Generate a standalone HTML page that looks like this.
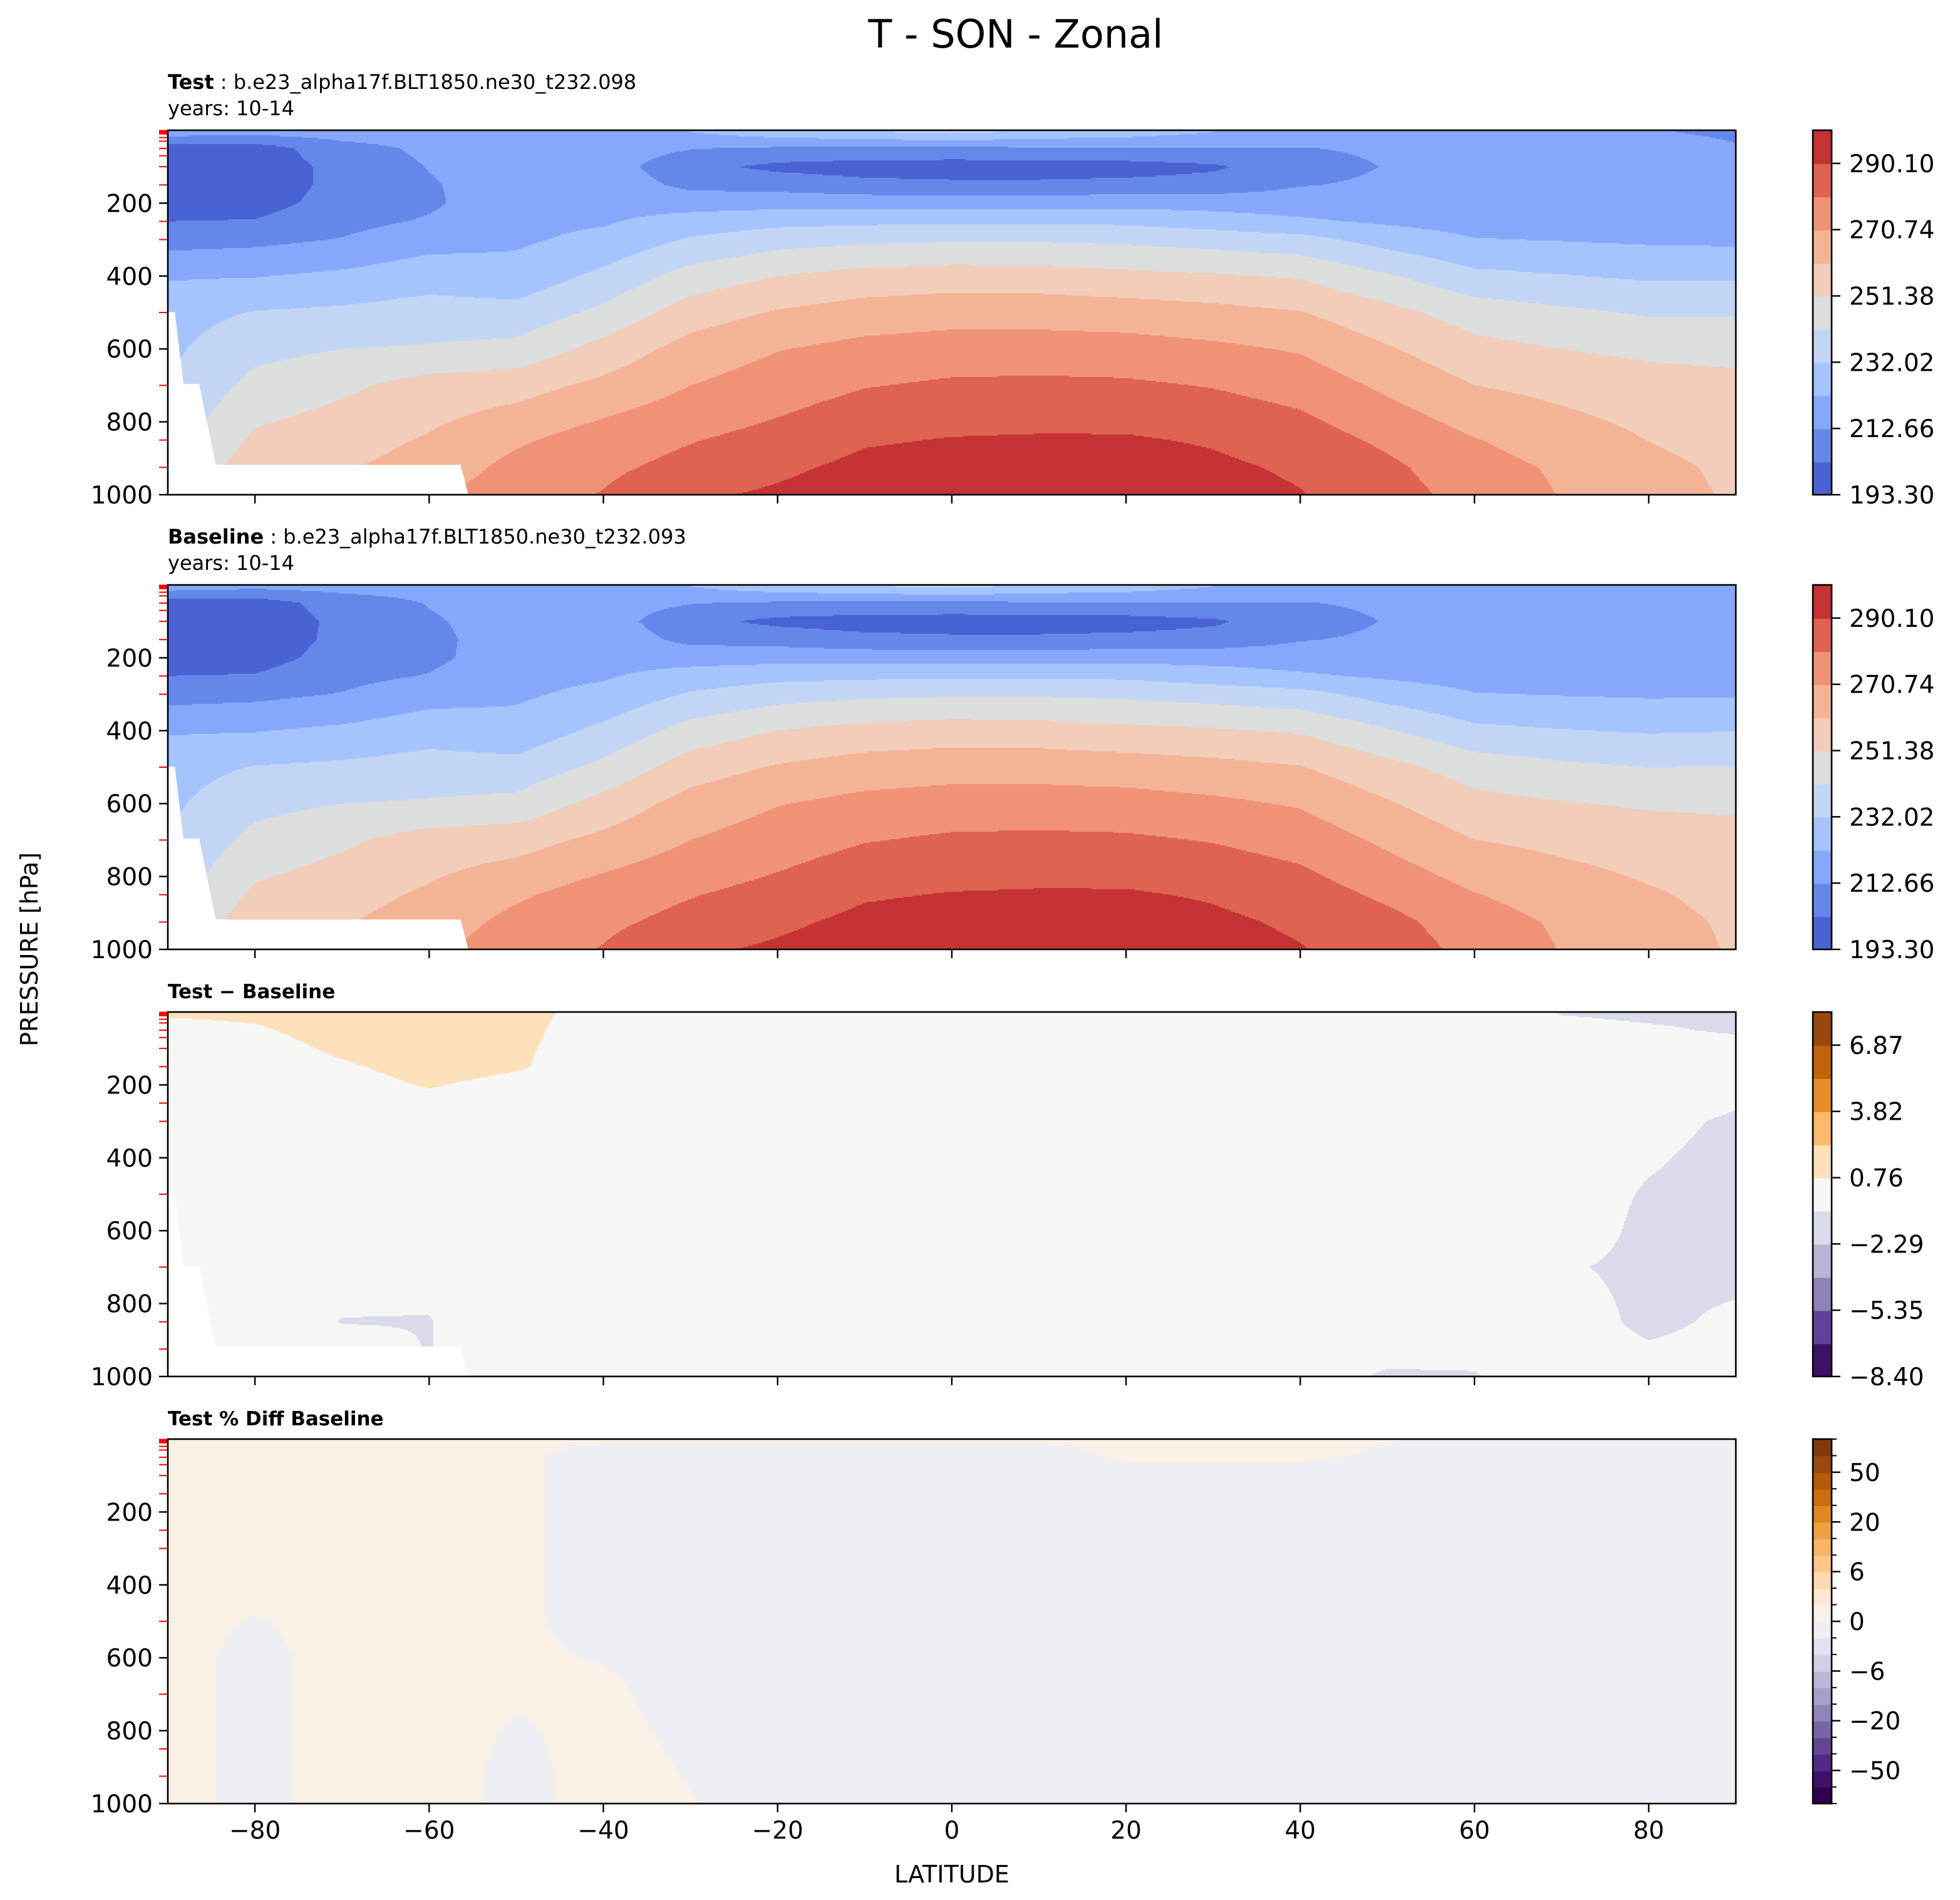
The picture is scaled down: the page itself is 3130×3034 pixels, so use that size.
<!DOCTYPE html>
<html><head><meta charset="utf-8"><style>
html,body{margin:0;padding:0;background:#fff}
svg{display:block}
text{font-family:"DejaVu Sans","Liberation Sans",sans-serif;fill:#000}
</style></head><body>
<svg id="fig" width="3130" height="3034" viewBox="0 0 1565 1517" xmlns="http://www.w3.org/2000/svg">
<rect x="0" y="0" width="1565" height="1517" fill="#fff"/>
<text x="811" y="38" font-size="31" text-anchor="middle">T - SON - Zonal</text>
<text x="134" y="71" font-size="16"><tspan font-weight="bold">Test</tspan> : b.e23_alpha17f.BLT1850.ne30_t232.098</text>
<text x="134" y="92" font-size="16">years: 10-14</text>
<text x="134" y="434" font-size="16"><tspan font-weight="bold">Baseline</tspan> : b.e23_alpha17f.BLT1850.ne30_t232.093</text>
<text x="134" y="455" font-size="16">years: 10-14</text>
<text x="134" y="797" font-size="15.5" font-weight="bold">Test − Baseline</text>
<text x="134" y="1138" font-size="15.5" font-weight="bold">Test % Diff Baseline</text>
<text x="760" y="1503" font-size="19" text-anchor="middle">LATITUDE</text>
<text x="0" y="0" font-size="19" text-anchor="middle" transform="translate(30,758) rotate(-90)">PRESSURE [hPa]</text>
</svg>
<script>
// ---- data ----
const lats = [-90,-80,-70,-60,-50,-40,-30,-20,-10,0,10,20,30,40,50,60,70,80,90];
const levels = [5,50,100,150,200,250,300,400,500,600,700,850,925,1000];
const tTest = [
[217.5,198.1,197.2,197.2,199.1,203.0,208.8,221.4,228.1,230.1,232.0,236.9,241.7,241.7],
[215.6,198.1,197.2,197.2,199.1,203.5,210.2,221.9,232.5,238.8,244.6,253.3,257.2,259.1],
[217.5,208.8,205.9,205.9,206.9,209.8,213.1,224.3,233.9,241.7,249.4,257.2,260.1,262.0],
[217.5,214.6,213.1,211.7,211.2,213.6,218.5,228.1,235.9,242.7,255.3,262.0,264.9,268.8],
[219.4,217.5,217.5,218.0,218.5,219.9,220.9,225.7,235.4,244.6,257.2,269.3,273.6,276.5],
[219.4,217.5,217.5,218.5,219.4,221.4,224.8,234.4,244.1,254.8,263.5,275.6,278.5,280.9],
[222.3,213.1,205.9,210.2,218.5,226.2,233.0,245.6,256.2,264.9,270.7,279.9,283.3,288.6],
[228.1,211.2,200.6,208.8,219.0,229.1,237.8,251.4,262.0,270.3,275.6,283.8,288.2,291.6],
[231.1,210.7,198.6,205.9,218.5,230.1,239.8,254.8,265.4,273.6,279.9,289.1,292.5,294.9],
[233.9,210.7,198.1,204.9,218.5,230.6,240.7,256.2,266.9,275.1,281.9,290.6,294.0,295.9],
[230.1,211.2,198.1,204.9,218.5,230.6,240.7,255.7,266.9,275.1,282.4,291.1,294.5,296.4],
[227.2,212.2,198.6,205.9,219.0,230.1,239.8,253.8,265.9,274.6,281.9,291.1,294.9,296.9],
[222.3,212.2,201.5,206.9,218.5,227.2,237.8,252.4,264.0,272.7,279.9,289.1,292.0,294.0],
[218.5,212.2,208.8,212.2,217.5,223.8,235.4,250.4,261.5,269.8,276.5,285.3,288.6,290.6],
[217.5,214.1,213.1,214.1,216.5,220.9,228.1,242.7,254.3,262.0,268.8,278.5,282.4,284.3],
[217.5,215.6,214.6,214.6,215.6,218.5,222.8,234.4,247.0,254.3,261.1,271.2,274.6,277.0],
[216.5,215.6,215.1,215.1,215.6,218.0,221.9,232.5,243.6,251.4,258.2,265.9,269.3,270.3],
[213.1,215.6,215.6,215.6,216.0,217.5,220.9,230.6,240.7,249.0,255.7,260.9,263.0,264.0],
[211.7,213.1,215.6,216.0,216.5,218.0,220.4,230.6,240.7,248.0,254.3,258.2,259.6,260.1]];
const tBase = [
[217.3,198.0,197.2,197.2,199.1,203.0,208.8,221.4,228.1,230.1,232.0,236.9,241.7,241.7],
[215.0,197.8,197.1,197.2,199.1,203.5,210.2,221.9,232.5,238.8,244.6,253.3,257.2,259.1],
[216.2,207.6,205.0,205.4,206.7,209.8,213.1,224.3,233.9,241.7,249.6,257.6,260.3,262.0],
[216.0,213.1,211.7,210.5,210.4,213.2,218.5,228.1,235.9,242.7,255.7,262.5,265.3,268.8],
[218.1,216.2,216.3,217.0,218.0,219.7,220.9,225.7,235.4,244.6,257.2,269.3,273.6,276.5],
[219.0,217.2,217.3,218.4,219.4,221.4,224.8,234.4,244.1,254.8,263.5,275.6,278.5,280.9],
[222.3,213.1,205.9,210.2,218.5,226.2,233.0,245.6,256.2,264.9,270.7,279.9,283.3,288.6],
[228.1,211.2,200.6,208.8,219.0,229.1,237.8,251.4,262.0,270.3,275.6,283.8,288.2,291.6],
[231.1,210.7,198.6,205.9,218.5,230.1,239.8,254.8,265.4,273.6,279.9,289.1,292.5,294.9],
[233.9,210.7,198.1,204.9,218.5,230.6,240.7,256.2,266.9,275.1,281.9,290.6,294.0,295.9],
[230.1,211.2,198.1,204.9,218.5,230.6,240.7,255.7,266.9,275.1,282.4,291.1,294.5,296.4],
[227.2,212.2,198.6,205.9,219.0,230.1,239.8,253.8,265.9,274.6,281.9,291.1,294.9,296.9],
[222.3,212.2,201.5,206.9,218.5,227.2,237.8,252.4,264.0,272.7,279.9,289.1,292.0,294.0],
[218.5,212.2,208.8,212.2,217.5,223.8,235.4,250.4,261.5,269.8,276.5,285.3,288.6,290.6],
[217.5,214.1,213.1,214.1,216.5,220.9,228.1,242.7,254.3,262.0,268.8,278.5,283.3,285.2],
[217.5,215.6,214.6,214.6,215.6,218.5,222.8,234.4,247.0,254.3,261.1,271.2,275.4,277.8],
[217.3,215.9,215.1,215.1,215.6,218.0,221.9,232.5,243.6,252.0,258.8,265.9,269.3,270.3],
[214.1,216.2,215.8,215.6,216.0,217.5,221.2,231.2,241.6,250.1,256.8,262.0,263.6,264.3],
[212.7,214.0,215.9,216.0,216.8,218.6,221.4,231.8,241.9,249.2,255.5,258.7,259.9,260.4]];
const tDiff = [
[0.9,0.3,0,0,0,0,0,0,0,0,0,0,0,0],
[1.0,0.6,0.2,0,0,0,0,0,0,0,0,0,0,0],
[1.4,1.3,1.0,0.6,0.3,0,0,0,0,0,-0.3,-0.8,-0.3,0],
[1.5,1.5,1.4,1.2,0.85,0.4,0,0,0,0,-0.5,-0.8,-0.8,0],
[1.2,1.1,1.0,0.9,0.4,0.1,0,0,0,0,0,0,0,0],
[0.2,0.1,0,0,0,0,0,0,0,0,0,0,0,0],
[0,0,0,0,0,0,0,0,0,0,0,0,0,0],
[0,0,0,0,0,0,0,0,0,0,0,0,0,0],
[0,0,0,0,0,0,0,0,0,0,0,0,0,0],
[0,0,0,0,0,0,0,0,0,0,0,0,0,0],
[0,0,0,0,0,0,0,0,0,0,0,0,0,0],
[0,0,0,0,0,0,0,0,0,0,0,0,0,0],
[0,0,0,0,0,0,0,0,0,0,0,0,0,0],
[0,0,0,0,0,0,0,0,0,0,0,0,0,-0.3],
[0,0,0,0,0,0,0,0,0,0,0,0,-0.4,-0.9],
[0,0,0,0,0,0,0,0,0,0,0,0,-0.4,-0.85],
[-0.8,-0.3,0,0,0,0,0,0,0,0,-0.6,0,0,0],
[-1.0,-0.6,-0.2,0,0,0,-0.3,-0.6,-0.9,-1.1,-1.1,-1.1,-0.6,-0.3],
[-1.0,-0.9,-0.3,0,-0.3,-0.6,-1.0,-1.2,-1.2,-1.2,-1.2,-0.45,-0.3,-0.3]];
const tPct = [
[1,1,1,1,1,1,1,1,1,1,1,1,1,1],
[1,1,1,1,1,1,1,1,-0.2,-0.8,-0.8,-0.8,-0.8,-0.8],
[1,1,1,1,1,1,1,1,1,1,1,1,1,1],
[1,1,1,1,1,1,1,1,1,1,1,1,1,1],
[0.3,0.3,0.3,0.3,0.3,0.3,0.3,0.3,0.3,0.3,0.2,-0.4,-0.6,-0.6],
[0.1,-0.6,-0.6,-0.6,-0.6,-0.6,-0.6,-0.6,-0.6,-0.1,0.4,0.7,0.8,0.8],
[0.1,-0.8,-0.8,-0.8,-0.8,-0.8,-0.8,-0.8,-0.8,-0.8,-0.8,-0.3,-0.1,0.1],
[0.1,-0.8,-0.8,-0.8,-0.8,-0.8,-0.8,-0.8,-0.8,-0.8,-0.8,-0.8,-0.8,-0.8],
[0.1,-0.8,-0.8,-0.8,-0.8,-0.8,-0.8,-0.8,-0.8,-0.8,-0.8,-0.8,-0.8,-0.8],
[0.1,-0.8,-0.8,-0.8,-0.8,-0.8,-0.8,-0.8,-0.8,-0.8,-0.8,-0.8,-0.8,-0.8],
[0.1,-0.8,-0.8,-0.8,-0.8,-0.8,-0.8,-0.8,-0.8,-0.8,-0.8,-0.8,-0.8,-0.8],
[0.6,0.3,-0.8,-0.8,-0.8,-0.8,-0.8,-0.8,-0.8,-0.8,-0.8,-0.8,-0.8,-0.8],
[0.6,0.3,-0.8,-0.8,-0.8,-0.8,-0.8,-0.8,-0.8,-0.8,-0.8,-0.8,-0.8,-0.8],
[0.6,0.3,-0.8,-0.8,-0.8,-0.8,-0.8,-0.8,-0.8,-0.8,-0.8,-0.8,-0.8,-0.8],
[0.1,-0.3,-0.8,-0.8,-0.8,-0.8,-0.8,-0.8,-0.8,-0.8,-0.8,-0.8,-0.8,-0.8],
[-0.8,-0.8,-0.8,-0.8,-0.8,-0.8,-0.8,-0.8,-0.8,-0.8,-0.8,-0.8,-0.8,-0.8],
[-0.8,-0.8,-0.8,-0.8,-0.8,-0.8,-0.8,-0.8,-0.8,-0.8,-0.8,-0.8,-0.8,-0.8],
[-0.8,-0.8,-0.8,-0.8,-0.8,-0.8,-0.8,-0.8,-0.8,-0.8,-0.8,-0.8,-0.8,-0.8],
[-0.8,-0.8,-0.8,-0.8,-0.8,-0.8,-0.8,-0.8,-0.8,-0.8,-0.8,-0.8,-0.8,-0.8]];
const maskLat = [-90,-89.2,-88.2,-86.4,-84.5,-56.4,-55.5,-90];
const maskP = [499,499,696,696,918,918,1000,1000];
const tLevels = [193.30,202.98,212.66,222.34,232.02,241.70,251.38,261.06,270.74,280.42,290.10,299.78];
const tColors = ['#4a63d3','#6687ea','#85a8fa','#a5c3fe','#c3d5f4','#dcdddd','#f1cdba','#f5b396','#f09276','#de6350','#c53334'];
const tTicks = ['193.30','212.66','232.02','251.38','270.74','290.10'];
const dLevels = [-8.40,-6.87,-5.35,-3.82,-2.29,-0.76,0.76,2.29,3.82,5.35,6.87,8.40];
const dColors = ['#3d1262','#62419a','#8e82b6','#b9b3d6','#d9daea','#f6f6f5','#fde1ba','#fdbb6b','#e68d2b','#c2630c','#99480b'];
const dTicks = ['−8.40','−5.35','−2.29','0.76','3.82','6.87'];
const pLevels = [-100,-75,-50,-40,-30,-20,-15,-10,-6,-4,-2,0,2,4,6,10,15,20,30,40,50,75,100];
const pColors = ['#2d004b','#3f0f6a','#542888','#634596','#7865a8','#8e86b9','#a79fcb','#bcb6d9','#d0cfe6','#e1e1ef','#eeeff2','#f9f0e6','#fde8d1','#fedbae','#fdc788','#f9b466','#f0a042','#e28822','#cb6e0e','#b45a09','#99490b','#7f3b08'];
const pTickIdx = [2,5,8,11,14,17,20];
const pTicks = ['−50','−20','−6','0','6','20','50'];
const yTicks = [200,400,600,800,1000];
const xTicks = [-80,-60,-40,-20,0,20,40,60,80];
const redTicks = [1,2,3,5,7,10,20,30,50,70,100,150,200,250,300,400,500,600,700,850,925,1000];

// ---- drawing ----
const NS = 'http://www.w3.org/2000/svg';
const svg = document.getElementById('fig');
const X0 = 134, W = 1252, H = 291;
const CBX = 1447.5, CBW = 15;
function xs(lat){ return X0 + (lat + 90) / 180 * W; }
function mk(tag, attrs, parent){
  const e = document.createElementNS(NS, tag);
  for (const k in attrs) e.setAttribute(k, attrs[k]);
  (parent || svg).appendChild(e);
  return e;
}
function interp(cols, lat, p){
  let i = Math.floor((lat - lats[0]) / 10); if (i < 0) i = 0; if (i > lats.length - 2) i = lats.length - 2;
  let t = (lat - lats[i]) / (lats[i+1] - lats[i]); t = Math.max(0, Math.min(1, t));
  let j = 0, s = 0;
  if (p <= levels[0]) { j = 0; s = 0; }
  else if (p >= levels[levels.length-1]) { j = levels.length - 2; s = 1; }
  else { while (levels[j+1] < p) j++; s = (p - levels[j]) / (levels[j+1] - levels[j]); }
  const a = cols[i][j]*(1-s) + cols[i][j+1]*s;
  const b = cols[i+1][j]*(1-s) + cols[i+1][j+1]*s;
  return a*(1-t) + b*t;
}
function band(v, lv){
  let k = 0;
  while (k < lv.length - 2 && v >= lv[k+1]) k++;
  return k;
}
function panel(name, top, cols, lv, colors, hasMask, showXLabels){
  const ys = p => top + p / 1000 * H;
  const g = mk('g', {'shape-rendering':'crispEdges'});
  
  
  for (let r = 0; r < H; r++){
    const p = (r + 0.5) / H * 1000;
    let start = 0, cur = -1;
    for (let c = 0; c <= W; c++){
      let k = -2;
      if (c < W){ const lat = -90 + (c + 0.5) / W * 180; k = band(interp(cols, lat, p), lv); }
      if (k !== cur){
        if (cur >= 0){
          const rc = mk('rect', {x: X0 + start, y: top + r, width: c - start + 0.6, height: 1.6, fill: colors[cur]}, g);
          
          
        }
        cur = k; start = c;
      }
    }
  }
  if (hasMask){
    let pts = maskLat.map((la, i) => xs(la).toFixed(2) + ',' + ys(maskP[i]).toFixed(2)).join(' ');
    const m = mk('polygon', {points: pts, fill: '#ffffff'});
    
    
  }
  redTicks.forEach(pv => {
    const l = mk('line', {x1: X0 - 7, x2: X0, y1: ys(pv), y2: ys(pv), stroke: '#ff0000', 'stroke-width': 1});
    
    
  });
  yTicks.forEach(pv => {
    const l = mk('line', {x1: X0 - 7, x2: X0, y1: ys(pv), y2: ys(pv), stroke: '#000', 'stroke-width': 1.2});
    
    
    const t = mk('text', {x: X0 - 12, y: ys(pv) + 7, 'font-size': 19.5, 'text-anchor': 'end'});
    t.textContent = String(pv);
    
    
  });
  xTicks.forEach(la => {
    const l = mk('line', {x1: xs(la), x2: xs(la), y1: top + H, y2: top + H + 7, stroke: '#000', 'stroke-width': 1.2});
    
    
    if (showXLabels){
      const t = mk('text', {x: xs(la), y: top + H + 28, 'font-size': 19.5, 'text-anchor': 'middle'});
      t.textContent = la < 0 ? '−' + Math.abs(la) : String(la);
      
      
    }
  });
  const fr = mk('rect', {x: X0, y: top, width: W, height: H, fill: 'none', stroke: '#000', 'stroke-width': 1.3});
  
  
}
function colorbar(name, top, colors, tickIdx, tickLabels, minor){
  const n = colors.length, bh = H / n;
  const g = mk('g', {'shape-rendering':'crispEdges'});
  
  
  colors.forEach((c, i) => {
    const r = mk('rect', {x: CBX, y: top + H - (i + 1) * bh, width: CBW, height: bh + 0.6, fill: c}, g);
    
    
  });
  if (minor){
    for (let i = 0; i <= n; i++){
      const y = top + H - i * bh;
      const l = mk('line', {x1: CBX + CBW, x2: CBX + CBW + 4, y1: y, y2: y, stroke: '#000', 'stroke-width': 1});
      
      
    }
  }
  tickIdx.forEach((k, i) => {
    const y = top + H - k * bh;
    const l = mk('line', {x1: CBX + CBW, x2: CBX + CBW + 7, y1: y, y2: y, stroke: '#000', 'stroke-width': 1.2});
    
    
    const t = mk('text', {x: CBX + CBW + 14, y: y + 7, 'font-size': 19.5});
    t.textContent = tickLabels[i];
    
    
  });
  const fr = mk('rect', {x: CBX, y: top, width: CBW, height: H, fill: 'none', stroke: '#000', 'stroke-width': 1.3});
  
  
}
const tops = [104, 467, 808, 1149];
panel('test-panel', tops[0], tTest, tLevels, tColors, true, false);
panel('baseline-panel', tops[1], tBase, tLevels, tColors, true, false);
panel('diff-panel', tops[2], tDiff, dLevels, dColors, true, false);
panel('pctdiff-panel', tops[3], tPct, pLevels, pColors, false, true);
colorbar('test-colorbar', tops[0], tColors, [0,2,4,6,8,10], tTicks, false);
colorbar('baseline-colorbar', tops[1], tColors, [0,2,4,6,8,10], tTicks, false);
colorbar('diff-colorbar', tops[2], dColors, [0,2,4,6,8,10], dTicks, false);
colorbar('pctdiff-colorbar', tops[3], pColors, pTickIdx, pTicks, true);
</script>
</body></html>
